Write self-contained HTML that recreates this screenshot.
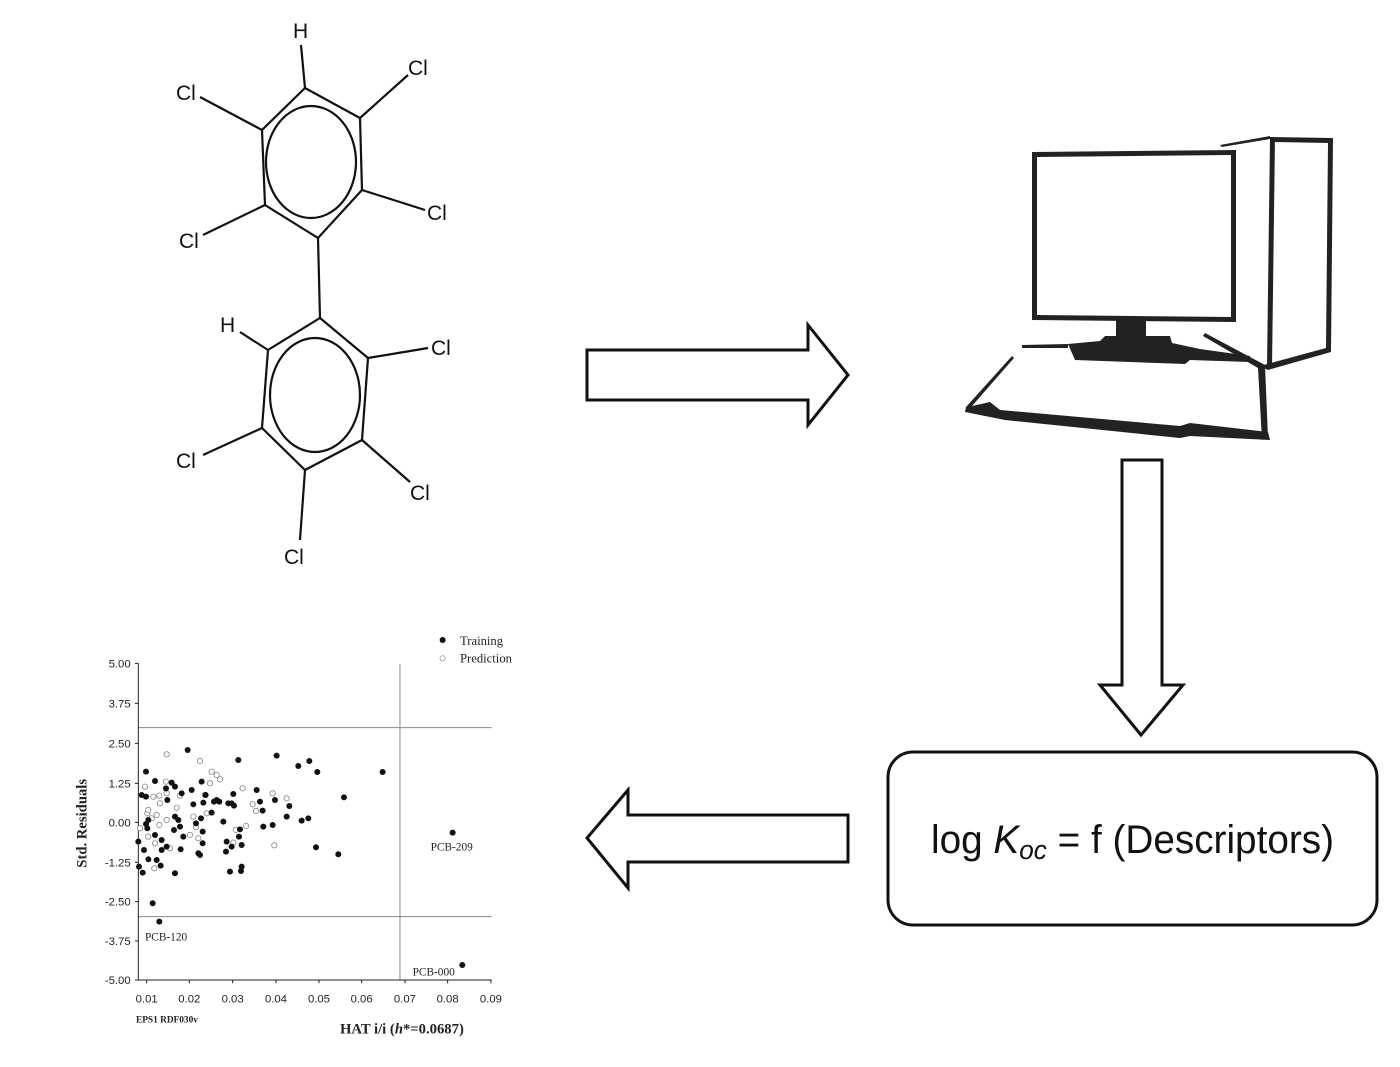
<!DOCTYPE html>
<html><head><style>
html,body{margin:0;padding:0;background:#fff;width:1400px;height:1067px;overflow:hidden}
svg{display:block}
</style></head><body>
<svg width="1400" height="1067" viewBox="0 0 1400 1067" xmlns="http://www.w3.org/2000/svg">
<g stroke="#111" stroke-width="2.2" fill="none">
<polygon points="305,88 360,118 362,190 318,238 265,205 262,130"/>
<ellipse cx="311" cy="162" rx="45" ry="56"/>
<line x1="305" y1="88" x2="301" y2="45"/>
<line x1="360" y1="118" x2="408" y2="75"/>
<line x1="362" y1="190" x2="425" y2="210"/>
<line x1="262" y1="130" x2="200" y2="97"/>
<line x1="265" y1="205" x2="203" y2="235"/>
<line x1="318" y1="238" x2="320" y2="318"/>
<polygon points="320,318 368,358 362,440 305,470 262,428 268,350"/>
<ellipse cx="315" cy="395" rx="45" ry="57"/>
<line x1="268" y1="350" x2="240" y2="332"/>
<line x1="368" y1="358" x2="428" y2="348"/>
<line x1="362" y1="440" x2="410" y2="482"/>
<line x1="262" y1="428" x2="203" y2="455"/>
<line x1="305" y1="470" x2="300" y2="540"/>
</g>
<g font-family="Liberation Sans, sans-serif" font-size="21" fill="#111">
<text x="293" y="38">H</text>
<text x="408" y="75">Cl</text>
<text x="176" y="100">Cl</text>
<text x="427" y="220">Cl</text>
<text x="179" y="248">Cl</text>
<text x="220" y="332">H</text>
<text x="431" y="355">Cl</text>
<text x="176" y="468">Cl</text>
<text x="410" y="500">Cl</text>
<text x="284" y="564">Cl</text>
</g>
<g stroke="#111" stroke-width="3" fill="#fff" stroke-linejoin="miter">
<polygon points="587,350 808,350 808,325 848,375 808,425 808,400 587,400"/>
<polygon points="1122,460 1162,460 1162,685 1183,685 1141,735 1100,685 1122,685"/>
<polygon points="848,815 628,815 628,790 587,838 628,888 628,862 848,862"/>
</g>
<rect x="888" y="752" width="489" height="173" rx="25" ry="25" fill="#fff" stroke="#111" stroke-width="3"/>
<text x="931" y="853" textLength="403" lengthAdjust="spacingAndGlyphs" font-family="Liberation Sans, sans-serif" font-size="40" fill="#111">log <tspan font-style="italic">K</tspan><tspan font-style="italic" font-size="27" dy="6">oc</tspan><tspan dy="-6"> = f (Descriptors)</tspan></text>
<g fill="#222" stroke="none">
<path d="M1032,152 L1236,150 L1236,322 L1032,320 Z M1037,157 L1037,315 L1231,317 L1231,155 Z" fill-rule="evenodd"/>
<rect x="1116" y="320" width="30" height="16"/>
<polygon points="1068,344 1100,341 1105,336 1170,336 1172,343 1200,349 1250,356 1250,362 1190,360 1185,364 1075,360"/>
<polygon points="1022,345 1068,344 1068,348 1022,348"/>
<polygon points="1270,137 1333,138 1331,352 1268,370 1260,366 1326,348 1328,143 1275,142"/>
<polygon points="1270,137 1275,137 1272,368 1267,368"/>
<polygon points="1220,145 1270,136 1270,139 1222,147"/>
<polygon points="1205,333 1265,365 1268,438 1262,440 1258,368 1203,336"/>
<polygon points="1012,356 1014,358 972,406 990,402 1000,410 1180,426 1190,423 1268,432 1270,440 1190,436 1180,438 1005,420 965,412 966,407"/>
</g>
<g transform="translate(60,620) scale(0.3333)">
<g stroke="#888" stroke-width="3" fill="none">
<line x1="235" y1="323" x2="1295" y2="323"/>
<line x1="235" y1="890" x2="1295" y2="890"/>
<line x1="1020" y1="133" x2="1020" y2="1080"/>
</g>
<g stroke="#222" stroke-width="3" fill="none">
<line x1="235" y1="130" x2="235" y2="1080"/>
<line x1="235" y1="1080" x2="1295" y2="1080"/>
<path d="M225,130h10M225,250h10M225,370h10M225,490h10M225,607h10M225,727h10M225,845h10M225,963h10M225,1080h10M260,1080v10M388,1080v10M518,1080v10M648,1080v10M777,1080v10M905,1080v10M1035,1080v10M1163,1080v10M1293,1080v10"/>
</g>
<g font-family="Liberation Sans, sans-serif" font-size="34" fill="#222" text-anchor="end">
<text x="212" y="142">5.00</text><text x="212" y="262">3.75</text><text x="212" y="382">2.50</text><text x="212" y="502">1.25</text><text x="212" y="619">0.00</text><text x="212" y="739">-1.25</text><text x="212" y="857">-2.50</text><text x="212" y="975">-3.75</text><text x="212" y="1092">-5.00</text>
</g>
<g font-family="Liberation Sans, sans-serif" font-size="34" fill="#222" text-anchor="middle">
<text x="260" y="1148">0.01</text><text x="388" y="1148">0.02</text><text x="518" y="1148">0.03</text><text x="648" y="1148">0.04</text><text x="777" y="1148">0.05</text><text x="905" y="1148">0.06</text><text x="1035" y="1148">0.07</text><text x="1163" y="1148">0.08</text><text x="1293" y="1148">0.09</text>
</g>
<g font-family="Liberation Serif, serif" fill="#222">
<text x="1200" y="75" font-size="38">Training</text>
<text x="1200" y="128" font-size="38">Prediction</text>
<text x="1112" y="692" font-size="34">PCB-209</text>
<text x="255" y="962" font-size="34">PCB-120</text>
<text x="1058" y="1066" font-size="34">PCB-000</text>
<text x="228" y="1208" font-size="28" font-weight="bold">EPS1  RDF030v</text>
<text x="840" y="1240" font-size="44" font-weight="bold">HAT i/i (<tspan font-style="italic">h</tspan>*=0.0687)</text>
<text transform="translate(80,610) rotate(-90)" text-anchor="middle" font-size="44" font-weight="bold">Std. Residuals</text>
</g>
<circle cx="1148" cy="60" r="9" fill="#111"/>
<circle cx="1148" cy="115" r="8" fill="#fff" stroke="#888" stroke-width="2"/>
<g fill="#fff" stroke="#888" stroke-width="2.5">
<circle cx="320" cy="403" r="8"/><circle cx="420" cy="423" r="8"/><circle cx="455" cy="455" r="8"/><circle cx="470" cy="465" r="8"/><circle cx="480" cy="478" r="8"/><circle cx="450" cy="490" r="8"/><circle cx="435" cy="525" r="8"/><circle cx="548" cy="505" r="8"/><circle cx="578" cy="553" r="8"/><circle cx="588" cy="573" r="8"/><circle cx="558" cy="618" r="8"/><circle cx="528" cy="630" r="8"/><circle cx="520" cy="668" r="8"/><circle cx="390" cy="645" r="8"/><circle cx="400" cy="590" r="8"/><circle cx="408" cy="622" r="8"/><circle cx="415" cy="655" r="8"/><circle cx="440" cy="580" r="8"/><circle cx="350" cy="563" r="8"/><circle cx="360" cy="527" r="8"/><circle cx="318" cy="485" r="8"/><circle cx="320" cy="520" r="8"/><circle cx="298" cy="527" r="8"/><circle cx="300" cy="550" r="8"/><circle cx="280" cy="530" r="8"/><circle cx="262" cy="580" r="8"/><circle cx="255" cy="500" r="8"/><circle cx="285" cy="670" r="8"/><circle cx="265" cy="650" r="8"/><circle cx="240" cy="625" r="8"/><circle cx="283" cy="745" r="8"/><circle cx="330" cy="685" r="8"/><circle cx="298" cy="615" r="8"/><circle cx="290" cy="585" r="8"/><circle cx="265" cy="570" r="8"/><circle cx="275" cy="595" r="8"/><circle cx="638" cy="520" r="8"/><circle cx="680" cy="535" r="8"/><circle cx="643" cy="676" r="8"/><circle cx="320" cy="600" r="8"/>
</g>
<g fill="#111">
<circle cx="258" cy="455" r="9"/><circle cx="285" cy="483" r="9"/><circle cx="245" cy="525" r="9"/><circle cx="258" cy="530" r="9"/><circle cx="265" cy="600" r="9"/><circle cx="258" cy="612" r="9"/><circle cx="262" cy="625" r="9"/><circle cx="252" cy="690" r="9"/><circle cx="235" cy="665" r="9"/><circle cx="237" cy="740" r="9"/><circle cx="248" cy="758" r="9"/><circle cx="265" cy="718" r="9"/><circle cx="290" cy="720" r="9"/><circle cx="302" cy="737" r="9"/><circle cx="305" cy="690" r="9"/><circle cx="305" cy="660" r="9"/><circle cx="285" cy="645" r="9"/><circle cx="320" cy="680" r="9"/><circle cx="322" cy="540" r="9"/><circle cx="318" cy="505" r="9"/><circle cx="335" cy="488" r="9"/><circle cx="345" cy="500" r="9"/><circle cx="365" cy="520" r="9"/><circle cx="345" cy="590" r="9"/><circle cx="355" cy="600" r="9"/><circle cx="360" cy="620" r="9"/><circle cx="342" cy="630" r="9"/><circle cx="345" cy="760" r="9"/><circle cx="362" cy="688" r="9"/><circle cx="370" cy="650" r="9"/><circle cx="383" cy="390" r="9"/><circle cx="395" cy="510" r="9"/><circle cx="400" cy="553" r="9"/><circle cx="408" cy="610" r="9"/><circle cx="415" cy="700" r="9"/><circle cx="420" cy="705" r="9"/><circle cx="423" cy="595" r="9"/><circle cx="428" cy="635" r="9"/><circle cx="425" cy="485" r="9"/><circle cx="430" cy="548" r="9"/><circle cx="437" cy="525" r="9"/><circle cx="428" cy="670" r="9"/><circle cx="455" cy="578" r="9"/><circle cx="462" cy="545" r="9"/><circle cx="470" cy="540" r="9"/><circle cx="478" cy="545" r="9"/><circle cx="490" cy="605" r="9"/><circle cx="498" cy="695" r="9"/><circle cx="500" cy="665" r="9"/><circle cx="505" cy="550" r="9"/><circle cx="515" cy="550" r="9"/><circle cx="520" cy="522" r="9"/><circle cx="522" cy="557" r="9"/><circle cx="510" cy="755" r="9"/><circle cx="515" cy="680" r="9"/><circle cx="535" cy="420" r="9"/><circle cx="537" cy="650" r="9"/><circle cx="540" cy="628" r="9"/><circle cx="545" cy="675" r="9"/><circle cx="545" cy="740" r="9"/><circle cx="543" cy="753" r="9"/><circle cx="590" cy="510" r="9"/><circle cx="600" cy="545" r="9"/><circle cx="608" cy="572" r="9"/><circle cx="610" cy="620" r="9"/><circle cx="638" cy="615" r="9"/><circle cx="645" cy="540" r="9"/><circle cx="650" cy="407" r="9"/><circle cx="680" cy="590" r="9"/><circle cx="688" cy="558" r="9"/><circle cx="715" cy="438" r="9"/><circle cx="725" cy="602" r="9"/><circle cx="748" cy="423" r="9"/><circle cx="745" cy="595" r="9"/><circle cx="768" cy="682" r="9"/><circle cx="772" cy="456" r="9"/><circle cx="835" cy="703" r="9"/><circle cx="852" cy="532" r="9"/><circle cx="968" cy="456" r="9"/><circle cx="1178" cy="638" r="9"/><circle cx="1207" cy="1035" r="9"/><circle cx="278" cy="850" r="9"/><circle cx="298" cy="905" r="9"/>
</g>
</g>
</svg>
</body></html>
